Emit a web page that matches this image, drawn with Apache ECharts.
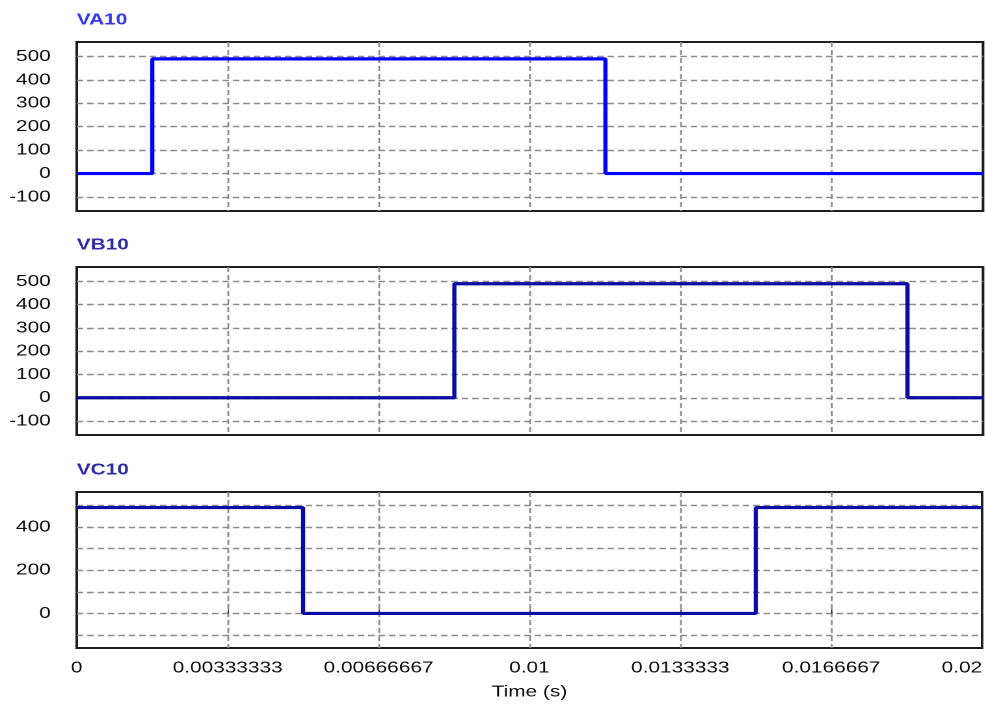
<!DOCTYPE html>
<html>
<head>
<meta charset="utf-8">
<title>VA10 / VB10 / VC10</title>
<script src="https://cdn.jsdelivr.net/npm/echarts@6/dist/echarts.min.js"></script>
<style>
  html, body { margin: 0; padding: 0; background: #fff; overflow: hidden; }
  #wrap { width: 986px; height: 704px; overflow: hidden; }
  /* the plot is laid out on a narrower canvas and widened horizontally */
  #chart { width: 758px; height: 704px; transform: scaleX(1.3008); transform-origin: 0 0; }
</style>
</head>
<body>
<div id="wrap"><div id="chart"></div></div>
<script>
// Gate voltages of the three switches over one 20 ms period (step waveforms)
const panelTitles = ['VA10', 'VB10', 'VC10'];

const vaTime = [0, 0.0016667, 0.0116667, 0.02];
const vaValue = [0, 490, 0, 0];

const vbTime = [0, 0.0083333, 0.0183333, 0.02];
const vbValue = [0, 490, 0, 0];

const vcTime = [0, 0.005, 0.015, 0.02];
const vcValue = [490, 0, 490, 490];

// time axis: 0 .. 0.02 s in sixths of the period
const timeMin = 0;
const timeMax = 0.02;
const timeStep = 0.02 / 6;

const yMin = -160;
const yMax = 562;

const lineColors = ['#0000ff', '#0a0aa5', '#0a0aa5'];
const titleColors = ['#3535ee', '#2e2aa6', '#2e2aa6'];

const gridTops = [42, 267, 492];
const gridHeights = [169, 168, 156];
const labelEvery = [100, 100, 200];

const pairs = (t, v) => t.map((x, i) => [x, v[i]]);
const seriesData = [pairs(vaTime, vaValue), pairs(vbTime, vbValue), pairs(vcTime, vcValue)];

const font = "'Liberation Sans', Arial, sans-serif";
const gridDash = { color: '#8c8c8c', width: 1.4, type: [5, 3] };

const chart = echarts.init(document.getElementById('chart'), null, { renderer: 'canvas', devicePixelRatio: 2 });

const option = {
  animation: false,
  backgroundColor: '#ffffff',
  title: panelTitles.map((t, i) => ({
    text: t,
    left: 59,
    top: gridTops[i] - 30,
    padding: 0,
    textStyle: { color: titleColors[i], fontSize: 16, fontWeight: 'bold', fontFamily: font }
  })),
  grid: gridTops.map((top, i) => ({
    left: 59,
    right: 2.3,
    top: top,
    height: gridHeights[i],
    show: true,
    borderColor: '#1e1e1e',
    borderWidth: 2,
    backgroundColor: '#ffffff'
  })),
  xAxis: gridTops.map((_, i) => {
    const last = i === gridTops.length - 1;
    return {
      type: 'value',
      gridIndex: i,
      min: timeMin,
      max: timeMax,
      interval: timeStep,
      axisLine: { show: false },
      axisTick: { show: last, inside: true, length: 4, lineStyle: { color: '#333', width: 1 } },
      axisLabel: {
        show: last,
        margin: 12,
        fontSize: 16,
        color: '#0d0d0d',
        fontFamily: font,
        alignMaxLabel: 'right',
        formatter: v => String(Number(v.toPrecision(6)))
      },
      splitLine: { show: true, showMinLine: false, showMaxLine: false, lineStyle: gridDash },
      name: last ? 'Time (s)' : '',
      nameLocation: 'middle',
      nameGap: 36,
      nameTextStyle: { fontSize: 16, color: '#0d0d0d', fontFamily: font }
    };
  }),
  yAxis: gridTops.map((_, i) => ({
    type: 'value',
    gridIndex: i,
    min: yMin,
    max: yMax,
    splitNumber: 7,
    axisLine: { show: false },
    axisTick: { show: false },
    axisLabel: {
      margin: 20,
      fontSize: 16,
      color: '#0d0d0d',
      fontFamily: font,
      showMinLabel: false,
      showMaxLabel: false,
      formatter: v => (Math.round(v) === v && v % labelEvery[i] === 0) ? String(v) : ''
    },
    splitLine: { show: true, showMinLine: false, showMaxLine: false, lineStyle: gridDash }
  })),
  series: seriesData.map((d, i) => ({
    type: 'line',
    name: panelTitles[i],
    xAxisIndex: i,
    yAxisIndex: i,
    step: 'end',
    symbol: 'none',
    data: d,
    lineStyle: { color: lineColors[i], width: 3.2 },
    z: 3
  }))
};

chart.setOption(option);
</script>
</body>
</html>
